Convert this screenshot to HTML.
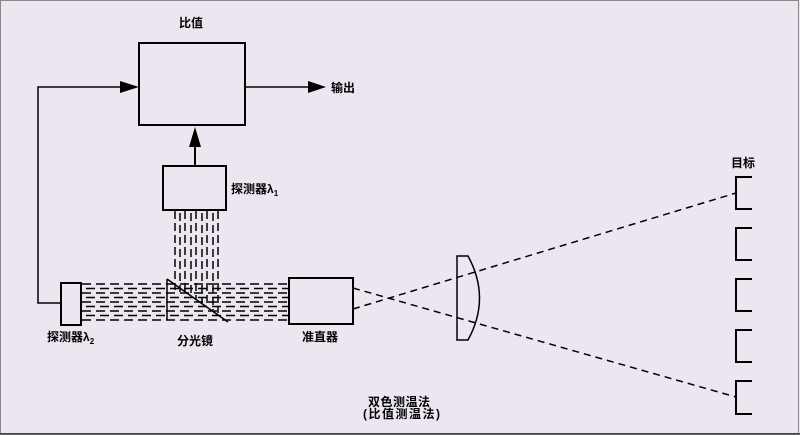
<!DOCTYPE html>
<html><head><meta charset="utf-8"><style>
html,body{margin:0;padding:0;background:#ece6f1;}
svg{display:block;}
text{font-family:"Liberation Sans","Noto Sans CJK SC",sans-serif;font-size:12px;font-weight:bold;fill:#000;}
</style></head><body>
<svg width="800" height="435" viewBox="0 0 800 435" xmlns="http://www.w3.org/2000/svg">
<rect x="0" y="0" width="800" height="435" fill="#ece6f1"/>
<rect x="0.5" y="0.5" width="798" height="433" fill="none" stroke="#888" stroke-width="1"/>
<line x1="0" y1="434" x2="800" y2="434" stroke="#333" stroke-width="1.5"/>

<!-- ratio box -->
<rect x="139" y="43" width="106" height="82" fill="none" stroke="#000" stroke-width="2"/>
<text x="179" y="27">比值</text>
<!-- input from left -->
<polyline points="61,303 38,303 38,87 122,87" fill="none" stroke="#000" stroke-width="1.5"/>
<polygon points="120,81 139,87 120,93" fill="#000"/>
<!-- output -->
<line x1="245" y1="87" x2="310" y2="87" stroke="#000" stroke-width="1.5"/>
<polygon points="308,81 326,87 308,93" fill="#000"/>
<text x="331" y="92">输出</text>
<!-- up arrow -->
<line x1="195" y1="166" x2="195" y2="145" stroke="#000" stroke-width="2"/>
<polygon points="189,147 195,127 201,147" fill="#000"/>

<!-- detector λ1 -->
<rect x="163" y="166" width="63" height="44" fill="none" stroke="#000" stroke-width="2"/>
<text x="231" y="193">探测器λ<tspan font-size="8" dy="3">1</tspan></text>

<!-- vertical dashes -->
<g stroke="#000" stroke-width="1.5" stroke-dasharray="8,4" fill="none">
<line x1="175" y1="211" x2="175" y2="290"/>
<line x1="180" y1="213" x2="180" y2="292"/>
<line x1="185" y1="211" x2="185" y2="294"/>
<line x1="191" y1="213" x2="191" y2="298"/>
<line x1="196" y1="211" x2="196" y2="300"/>
<line x1="202" y1="213" x2="202" y2="303"/>
<line x1="207" y1="211" x2="207" y2="306"/>
<line x1="213" y1="213" x2="213" y2="310"/>
<line x1="218" y1="211" x2="218" y2="313"/>
</g>

<!-- horizontal dashes -->
<g stroke="#000" stroke-width="1.6" stroke-dasharray="9,5" fill="none">
<line x1="82" y1="284" x2="289" y2="284"/>
<line x1="86" y1="288.5" x2="289" y2="288.5"/>
<line x1="82" y1="293" x2="289" y2="293"/>
<line x1="86" y1="297.5" x2="289" y2="297.5"/>
<line x1="82" y1="302" x2="289" y2="302"/>
<line x1="86" y1="306.5" x2="289" y2="306.5"/>
<line x1="82" y1="311" x2="289" y2="311"/>
<line x1="86" y1="315.5" x2="289" y2="315.5"/>
<line x1="82" y1="320" x2="289" y2="320"/>
</g>

<!-- detector λ2 -->
<rect x="61" y="283" width="20" height="42" fill="#ece6f1" stroke="#000" stroke-width="2"/>
<text x="47" y="341">探测器λ<tspan font-size="8" dy="3">2</tspan></text>

<!-- beam splitter -->
<line x1="167" y1="279" x2="167" y2="320" stroke="#000" stroke-width="1.5"/>
<line x1="167" y1="279" x2="228" y2="322" stroke="#000" stroke-width="1.5"/>
<text x="177" y="345">分光镜</text>

<!-- collimator -->
<rect x="289" y="278" width="64" height="46" fill="#ece6f1" stroke="#000" stroke-width="2"/>
<text x="302" y="341">准直器</text>

<!-- rays to targets -->
<g stroke="#000" stroke-width="1.5" stroke-dasharray="7,5" fill="none">
<line x1="353" y1="288" x2="736" y2="397"/>
<line x1="353" y1="309" x2="736" y2="193"/>
</g>

<!-- lens -->
<path d="M457,256 L468,256 Q491,298 468,340 L457,340 Z" fill="none" stroke="#000" stroke-width="1.5"/>

<!-- targets -->
<g stroke="#000" stroke-width="2" fill="none">
<polyline points="752,177 736,177 736,209 752,209"/>
<polyline points="752,228 736,228 736,260 752,260"/>
<polyline points="752,279 736,279 736,311 752,311"/>
<polyline points="752,330 736,330 736,362 752,362"/>
<polyline points="752,381 736,381 736,414 752,414"/>
</g>
<text x="731" y="167">目标</text>

<text x="368" y="406" letter-spacing="0.5">双色测温法</text>
<text x="363" y="418" letter-spacing="1.5">(比值测温法)</text>
</svg>
</body></html>
